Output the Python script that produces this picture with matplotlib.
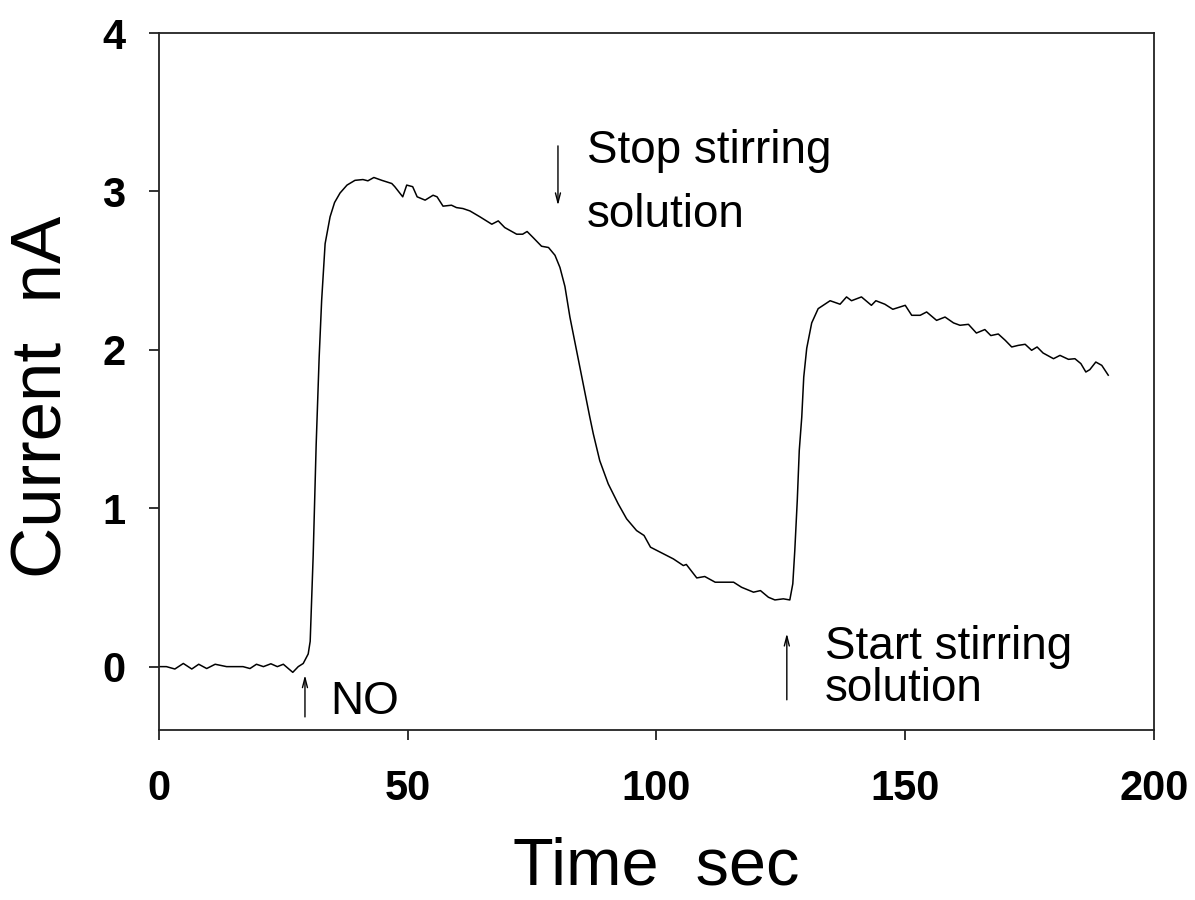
import matplotlib
matplotlib.use("Agg")
import matplotlib.pyplot as plt

plt.rcParams['font.family'] = ['Liberation Sans', 'DejaVu Sans']

# current trace (time in s, current in nA)
time_s = [0, 1.5, 3.2, 4.9, 6.6, 8.0, 9.6, 11.3, 13.6, 16.9, 18.3, 19.6, 21.0, 22.5,
          23.8, 25.0, 26.9, 28.0, 29.0, 30.0, 30.4, 31.0, 31.6, 32.2, 32.7, 33.4,
          34.4, 35.3, 36.4, 37.8, 39.4, 41.0, 42.0, 43.2, 44.8, 46.8, 47.4, 49.0,
          49.8, 51.0, 51.9, 53.5, 55.1, 55.9, 57.1, 58.8, 59.8, 61.1, 62.5, 64.5,
          66.9, 68.2, 69.5, 71.9, 73.1, 74.0, 75.2, 76.9, 78.3, 79.6, 80.6, 81.6,
          82.6, 84.6, 86.6, 87.3, 88.6, 90.3, 92.3, 94.0, 96.0, 97.5, 98.8, 101.4,
          103.4, 105.4, 106.0, 108.1, 109.7, 111.8, 115.5, 117.1, 119.5, 120.9,
          122.5, 123.8, 125.5, 126.8, 127.4, 127.8, 128.3, 128.7, 129.2, 129.6,
          130.2, 131.2, 132.5, 134.9, 136.9, 138.2, 139.2, 141.2, 143.2, 144.1,
          145.9, 147.5, 150.0, 151.3, 153.0, 154.3, 156.3, 158.0, 159.7, 161.0,
          162.7, 164.3, 166.0, 167.2, 168.7, 170.1, 171.4, 172.7, 174.1, 175.4,
          176.5, 177.7, 179.8, 181.1, 182.8, 184.1, 185.3, 186.3, 187.1, 188.3,
          189.5, 190.8]
current_nA = [0.0, 0.0, -0.015, 0.02, -0.015, 0.015, -0.012, 0.015, 0.0, 0.0,
              -0.012, 0.015, 0.0, 0.018, 0.0, 0.015, -0.036, 0.0, 0.02, 0.08, 0.16,
              0.7, 1.4, 1.95, 2.31, 2.67, 2.84, 2.93, 2.99, 3.04, 3.07, 3.075, 3.067,
              3.088, 3.07, 3.05, 3.03, 2.966, 3.04, 3.03, 2.966, 2.945, 2.976, 2.966,
              2.907, 2.913, 2.898, 2.892, 2.877, 2.84, 2.793, 2.814, 2.772, 2.73,
              2.73, 2.747, 2.709, 2.654, 2.646, 2.597, 2.52, 2.40, 2.207, 1.89, 1.575,
              1.47, 1.30, 1.154, 1.028, 0.933, 0.859, 0.828, 0.754, 0.712, 0.68,
              0.638, 0.645, 0.56, 0.569, 0.533, 0.533, 0.501, 0.47, 0.48, 0.438,
              0.421, 0.428, 0.421, 0.523, 0.733, 1.05, 1.365, 1.575, 1.828, 2.01,
              2.17, 2.26, 2.31, 2.288, 2.334, 2.31, 2.334, 2.281, 2.31, 2.288, 2.256,
              2.281, 2.218, 2.218, 2.239, 2.186, 2.207, 2.17, 2.155, 2.161, 2.106,
              2.128, 2.09, 2.10, 2.06, 2.018, 2.028, 2.035, 1.997, 2.018, 1.98,
              1.944, 1.965, 1.94, 1.944, 1.913, 1.86, 1.875, 1.923, 1.902, 1.84]

x_ticks = [0, 50, 100, 150, 200]
y_ticks = [0, 1, 2, 3, 4]

fig = plt.figure(figsize=(11.95, 9.0), dpi=100)
ax = fig.add_axes([0.133, 0.1889, 0.8327, 0.7744])

ax.plot(time_s, current_nA, color='black', lw=1.1)

ax.set_xlim(0, 200)
ax.set_ylim(-0.4, 4)
ax.set_xticks(x_ticks)
ax.set_yticks(y_ticks)
ax.tick_params(direction='out', length=7.2, width=1.3, colors='#222222',
               labelcolor='black', labelsize=30)
ax.tick_params(axis='x', pad=21)
ax.tick_params(axis='y', pad=17)
for lab in ax.get_xticklabels() + ax.get_yticklabels():
    lab.set_fontweight('bold')
for sp in ax.spines.values():
    sp.set_linewidth(1.3)
    sp.set_color('#222222')

fig.text(0.549, 0.002, 'Time  sec', fontsize=48, ha='center', va='bottom')
fig.text(0.036, 1 - 397 / 900, 'Current  nA', fontsize=51, rotation=90,
         ha='center', va='center')

arrow = dict(arrowstyle='->,head_length=0.7,head_width=0.18', lw=1.0, color='black')
fs = 33

# NO injection
ax.annotate('', xy=(29.35, -0.036), xytext=(29.35, -0.335), arrowprops=arrow)
ax.text(34.4, -0.297, 'NO', fontsize=fs, va='baseline')

# stop stirring
ax.annotate('', xy=(80.2, 2.894), xytext=(80.2, 3.305), arrowprops=arrow)
ax.text(86.0, 3.178, 'Stop stirring', fontsize=fs, va='baseline')
ax.text(86.0, 2.774, 'solution', fontsize=fs, va='baseline')

# start stirring
ax.annotate('', xy=(126.2, 0.227), xytext=(126.2, -0.227), arrowprops=arrow)
ax.text(133.9, 0.05, 'Start stirring', fontsize=fs, va='baseline')
ax.text(133.9, -0.22, 'solution', fontsize=fs, va='baseline')

fig.savefig('out.png', dpi=100)
